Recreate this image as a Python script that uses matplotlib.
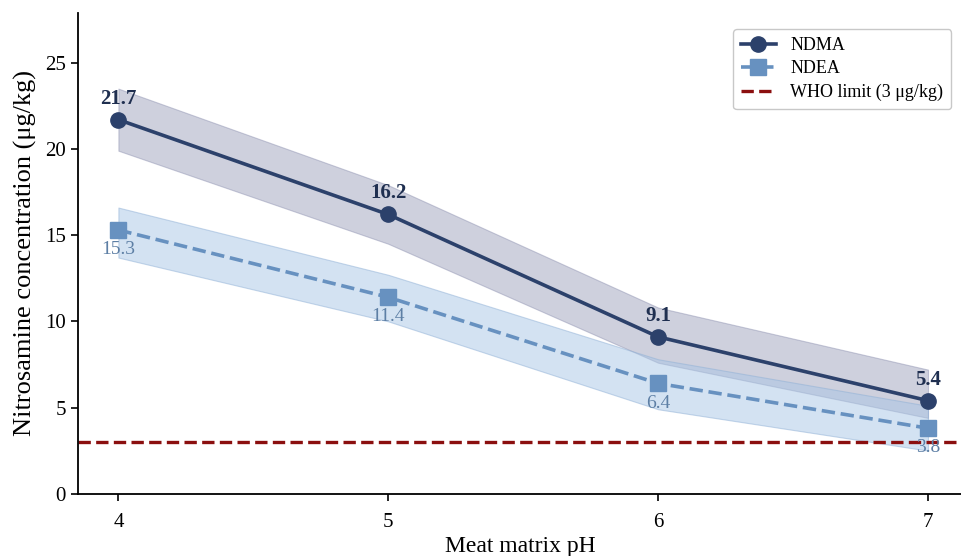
import matplotlib.pyplot as plt
import numpy as np

plt.rcParams['font.family'] = ['Liberation Serif', 'DejaVu Serif']

ph = [4, 5, 6, 7]
ndma = [21.7, 16.2, 9.1, 5.4]
ndma_lo = [19.9, 14.5, 7.6, 4.4]
ndma_hi = [23.5, 17.9, 10.8, 7.2]
ndea = [15.3, 11.4, 6.4, 3.8]
ndea_lo = [13.7, 10.0, 4.9, 2.5]
ndea_hi = [16.6, 12.7, 7.8, 5.1]
who_limit = 3

c_ndma = '#2c416b'
c_ndea = '#6791c0'

fig = plt.figure(figsize=(9.62, 5.56), dpi=100)
ax = fig.add_axes([0.081, 0.112, 0.919, 0.865])

ax.fill_between(ph, ndma_lo, ndma_hi, color='#9397b4', alpha=0.45, lw=0.8, edgecolor='#8a8eae')
ax.fill_between(ph, ndea_lo, ndea_hi, color='#a9c6e6', alpha=0.5, lw=0.8, edgecolor='#8fb0d6')

ax.plot(ph, ndma, '-o', color=c_ndma, lw=2.6, markersize=11, label='NDMA', zorder=4)
ax.plot(ph, ndea, '--s', color=c_ndea, lw=2.6, markersize=11, label='NDEA', zorder=3)
ax.axhline(who_limit, color='#8b0f0f', ls='--', lw=2.4, label='WHO limit (3 μg/kg)', zorder=2)

# value labels: NDMA above its points, NDEA below
for x, y in zip(ph, ndma):
    ax.annotate(f'{y:.1f}', (x, y), xytext=(0, 8), textcoords='offset points',
                ha='center', va='bottom', fontsize=15, fontweight='bold', color='#1f2f50')
for x, y in zip(ph, ndea):
    ax.annotate(f'{y:.1f}', (x, y), xytext=(0, -8), textcoords='offset points',
                ha='center', va='top', fontsize=14, color='#5d7fa5')

ax.set_xlim(3.85, 7.126)
ax.set_ylim(0, 27.9)
ax.set_xticks(ph)
ax.set_yticks([0, 5, 10, 15, 20, 25])
ax.tick_params(labelsize=15, length=5, width=1.2)
ax.tick_params(axis='x', pad=9)
ax.set_xlabel('Meat matrix pH', fontsize=17, labelpad=3)
ax.set_ylabel('Nitrosamine concentration (μg/kg)', fontsize=19, labelpad=6)
for s in ['top', 'right']:
    ax.spines[s].set_visible(False)
for s in ['left', 'bottom']:
    ax.spines[s].set_linewidth(1.3)

ax.legend(loc='upper right', fontsize=13, frameon=True, fancybox=True,
          edgecolor='#bbbbbb', handlelength=1.9, borderpad=0.45, labelspacing=0.35,
          bbox_to_anchor=(0.998, 0.985))

fig.savefig('out.png', dpi=100)
